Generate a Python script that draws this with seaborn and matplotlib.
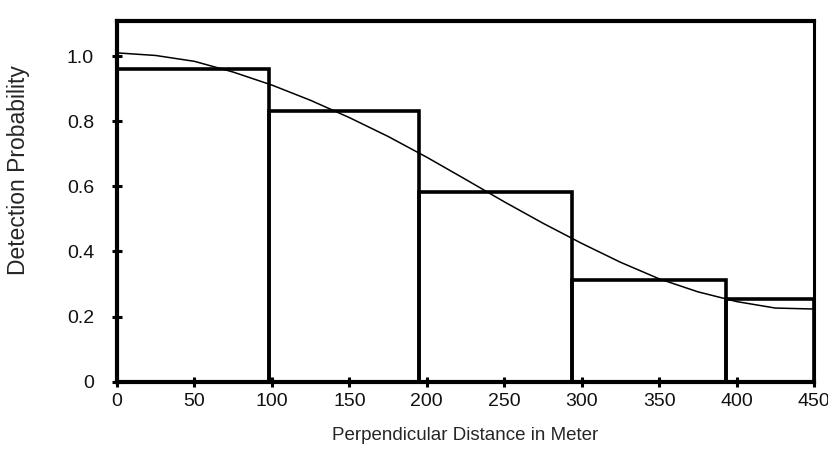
import numpy as np
import seaborn as sns
import matplotlib
matplotlib.use("Agg")
import matplotlib.pyplot as plt

# Histogram of observed detection probability per distance class
bin_edges = [0, 98, 195, 294, 393, 450]
bin_heights = [0.961, 0.833, 0.584, 0.312, 0.253]

# Fitted detection function, every 25 m
curve_x = [0, 25, 50, 75, 100, 125, 150, 175, 200, 225,
           250, 275, 300, 325, 350, 375, 400, 425, 450]
curve_y = [1.011, 1.003, 0.985, 0.952, 0.912, 0.865, 0.812, 0.754, 0.690, 0.622,
           0.553, 0.487, 0.425, 0.367, 0.316, 0.276, 0.246, 0.226, 0.223]

x_ticks = [0, 50, 100, 150, 200, 250, 300, 350, 400, 450]
y_ticks = [0, 0.2, 0.4, 0.6, 0.8, 1.0]
y_tick_labels = ["0", "0.2", "0.4", "0.6", "0.8", "1.0"]

sns.set_style("white")
plt.rcParams['font.family'] = ['Liberation Sans', 'DejaVu Sans']

fig = plt.figure(figsize=(8.29, 4.55), dpi=100)
ax = fig.add_axes([0.1411, 0.1615, 0.8408, 0.7923])

centers = [(a + b) / 2 for a, b in zip(bin_edges[:-1], bin_edges[1:])]
sns.histplot(x=centers, weights=bin_heights, bins=bin_edges, fill=False,
             color="black", linewidth=2.6, ax=ax)
for p in ax.patches:
    p.set_edgecolor("black")

sns.lineplot(x=curve_x, y=curve_y, color="black", linewidth=1.1, ax=ax)

ax.set_xlim(0, 450)
ax.set_ylim(0, 1.109)
ax.set_xticks(x_ticks)
ax.set_yticks(y_ticks)
ax.set_yticklabels(y_tick_labels)
ax.tick_params(axis="both", direction="inout", length=7, width=2.2,
               color="black", labelsize=14, labelcolor="#111111",
               bottom=True, left=True)
ax.tick_params(axis="x", pad=5)
ax.tick_params(axis="y", pad=13)

for side in ["left", "bottom", "top"]:
    ax.spines[side].set_linewidth(3)
ax.spines["right"].set_linewidth(2.2)
for s in ax.spines.values():
    s.set_color("black")
    s.set_visible(True)

ax.set_xlabel("Perpendicular Distance in Meter", fontsize=13.5, labelpad=12)
ax.set_ylabel("Detection Probability", fontsize=16.5)
ax.yaxis.set_label_coords(-0.125, 0.587)

fig.savefig("out.png", dpi=100, facecolor="white")
